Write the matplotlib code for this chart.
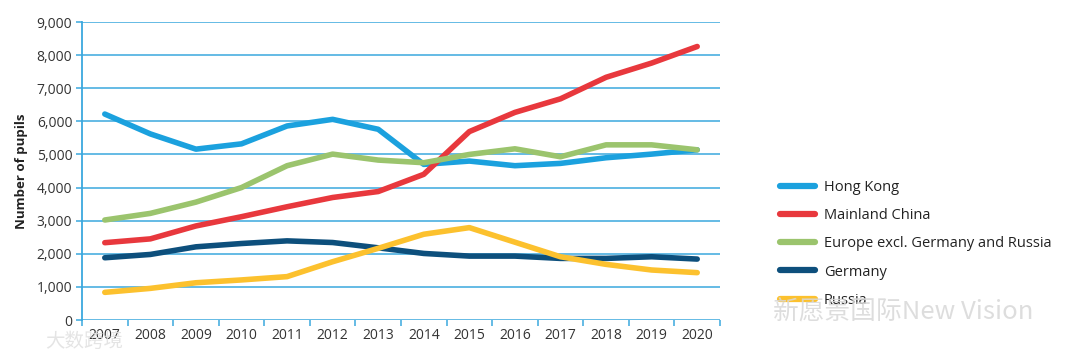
import matplotlib.pyplot as plt
from matplotlib.lines import Line2D
import numpy as np

years = [2007, 2008, 2009, 2010, 2011, 2012, 2013, 2014, 2015, 2016, 2017, 2018, 2019, 2020]
hong_kong = [6220, 5620, 5160, 5320, 5860, 6060, 5760, 4700, 4800, 4660, 4730, 4900, 5010, 5140]
mainland_china = [2335, 2450, 2840, 3120, 3420, 3700, 3880, 4400, 5690, 6270, 6680, 7330, 7760, 8260]
europe = [3020, 3220, 3560, 4000, 4660, 5010, 4830, 4750, 5000, 5170, 4930, 5290, 5290, 5140]
germany = [1880, 1980, 2210, 2310, 2390, 2340, 2180, 2010, 1930, 1930, 1860, 1860, 1910, 1840]
russia = [835, 955, 1125, 1210, 1310, 1760, 2165, 2590, 2790, 2350, 1910, 1680, 1510, 1430]

series_names = ["Hong Kong", "Mainland China", "Europe excl. Germany and Russia", "Germany", "Russia"]
series_values = [hong_kong, mainland_china, europe, germany, russia]
colors = ["#1BA1DE", "#E8383D", "#9BC46D", "#0D4F7C", "#FCC12E"]
yticks = [0, 1000, 2000, 3000, 4000, 5000, 6000, 7000, 8000, 9000]

plt.rcParams['font.family'] = ['Open Sans', 'Noto Sans CJK SC', 'DejaVu Sans']

fig = plt.figure(figsize=(10.8, 3.59), dpi=100)
ax = fig.add_axes([82/1080, 1 - 320/359, (720 - 82)/1080, (320 - 22)/359])

grid_color = "#3AA8DE"
x = np.arange(len(years))
draw_order = [3, 4, 2, 0, 1]
for i in draw_order:
    ax.plot(x, series_values[i], color=colors[i], lw=4.0, solid_capstyle='round',
            solid_joinstyle='round', zorder=3 + i * 0.1)

ax.set_xlim(-0.5, len(years) - 0.5)
ax.set_ylim(0, 9000)
ax.set_yticks(yticks)
ax.set_yticklabels([f"{v:,}" for v in yticks])
ax.set_xticks(x)
ax.set_xticklabels([str(y) for y in years])
ax.set_xticks(np.arange(-0.5, len(years), 1.0), minor=True)

for v in yticks:
    ax.axhline(v, color=grid_color, lw=1.1, zorder=1)

for s in ['top', 'right', 'bottom']:
    ax.spines[s].set_visible(False)
ax.spines['left'].set_color(grid_color)
ax.spines['left'].set_linewidth(1.3)

ax.tick_params(axis='x', which='major', length=0, pad=6, labelsize=10, labelcolor='#333333')
ax.tick_params(axis='x', which='minor', length=4, width=1.1, color=grid_color, direction='out')
ax.tick_params(axis='y', length=4, width=1.1, color=grid_color, labelsize=10,
               labelcolor='#333333', pad=3)
ax.set_ylabel("Number of pupils", fontsize=9.5, fontweight='bold', color='#222222', labelpad=6)

handles = [Line2D([0], [0], color=c, lw=4.5, solid_capstyle='round') for c in colors]
leg = fig.legend(handles, series_names, loc='upper left', bbox_to_anchor=(767/1080, 1 - 167/359),
                 frameon=False, fontsize=10.5, handlelength=2.4, handletextpad=0.6,
                 labelspacing=0.9, labelcolor='#222222')

# watermarks
fig.text(773/1080, 1 - 312/359, "新愿景国际New Vision", fontsize=18.5, color='#d8d8d8',
         alpha=0.85, va='center', ha='left', family=['Noto Sans CJK SC', 'DejaVu Sans'], zorder=10)
fig.text(45/1080, 1 - 341/359, "大数跨境", fontsize=14, color='#e0e0e0',
         alpha=0.85, va='center', ha='left', family=['Noto Sans CJK SC', 'DejaVu Sans'], zorder=10)

fig.savefig("out.png", dpi=100, facecolor='white')
